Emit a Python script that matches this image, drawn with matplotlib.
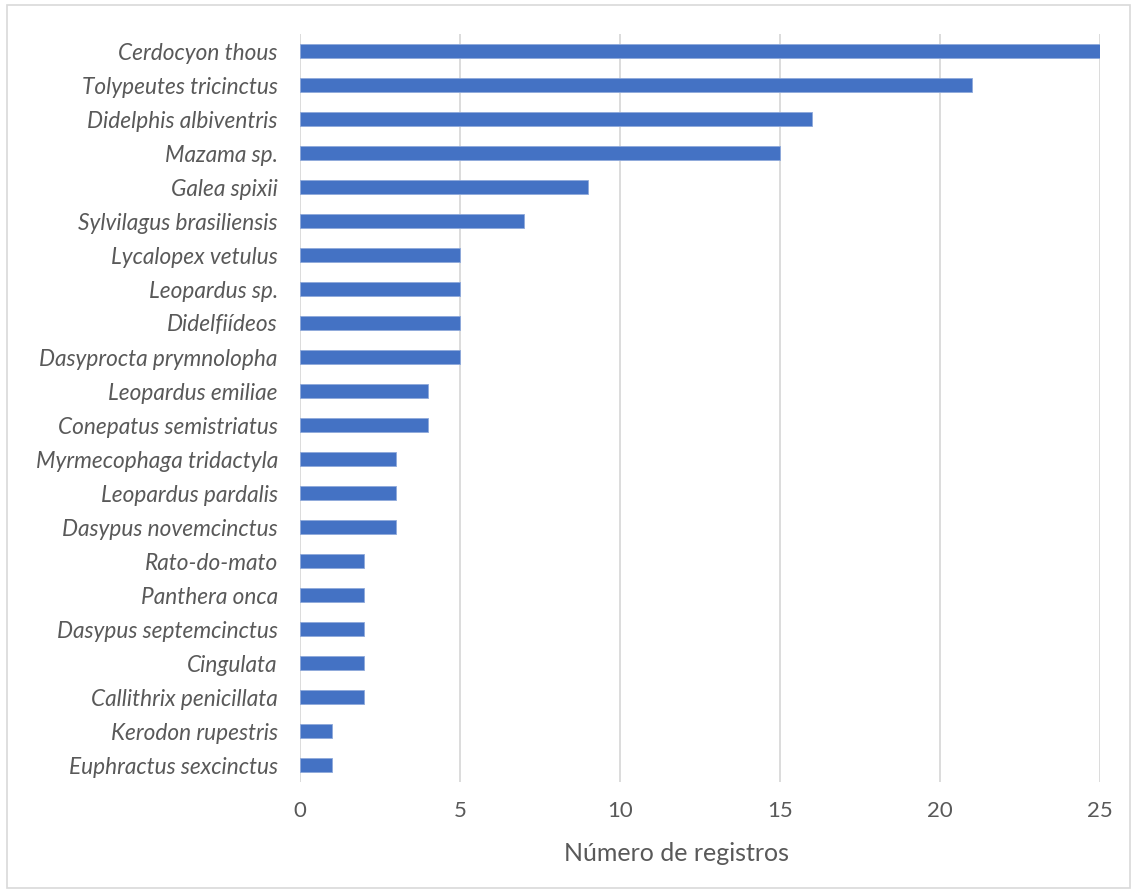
import matplotlib.pyplot as plt
from matplotlib.patches import Rectangle

species = [
    "Cerdocyon thous", "Tolypeutes tricinctus", "Didelphis albiventris", "Mazama sp.",
    "Galea spixii", "Sylvilagus brasiliensis", "Lycalopex vetulus", "Leopardus sp.",
    "Didelfiídeos", "Dasyprocta prymnolopha", "Leopardus emiliae", "Conepatus semistriatus",
    "Myrmecophaga tridactyla", "Leopardus pardalis", "Dasypus novemcinctus", "Rato-do-mato",
    "Panthera onca", "Dasypus septemcinctus", "Cingulata", "Callithrix penicillata",
    "Kerodon rupestris", "Euphractus sexcinctus",
]
registros = [25, 21, 16, 15, 9, 7, 5, 5, 5, 5, 4, 4, 3, 3, 3, 2, 2, 2, 2, 2, 1, 1]
xticks = [0, 5, 10, 15, 20, 25]

plt.rcParams['font.family'] = ['Lato', 'DejaVu Sans']
text_color = "#595959"

fig = plt.figure(figsize=(11.33, 8.93), dpi=100)
ax = fig.add_axes([300 / 1133, 111 / 893, 800 / 1133, 748 / 893])

# Excel-like chart border
fig.patches.append(Rectangle((7 / 1133, 5 / 893), 1123 / 1133, 883 / 893,
                             transform=fig.transFigure, fill=False,
                             edgecolor="#D9D9D9", linewidth=1.2))

ypos = list(range(len(species)))
ax.barh(ypos, registros, height=0.42, color="#4472C4", edgecolor="#8EA9DB",
        linewidth=0.6, zorder=3)
ax.set_ylim(len(species) - 0.5, -0.5)
ax.set_xlim(0, 25)
ax.set_yticks(ypos)
ax.set_yticklabels(species, style="italic", fontsize=16.3, color=text_color)
ax.set_xticks(xticks)
ax.set_xticklabels([str(t) for t in xticks], fontsize=16, color=text_color)
ax.tick_params(axis="both", length=0)
ax.tick_params(axis="y", pad=16)
ax.tick_params(axis="x", pad=14)
ax.xaxis.grid(True, color="#D9D9D9", linewidth=1.3, zorder=0)
for s in ax.spines.values():
    s.set_visible(False)
ax.set_xlabel("Número de registros", fontsize=18, color=text_color)
ax.xaxis.set_label_coords(0.47, -0.096)
ax.xaxis.label.set_verticalalignment("center")

plt.savefig("out.png", dpi=100)
